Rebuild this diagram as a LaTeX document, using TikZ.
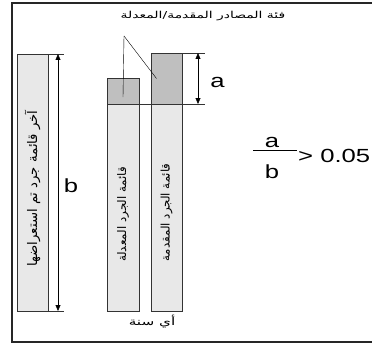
\documentclass[tikz,border=0pt]{standalone}
\usepackage{fontspec}
\setmainfont{Liberation Sans}[FakeStretch=1.35]
\newfontfamily\arabicfont[Script=Arabic, FakeStretch=1.45]{DejaVu Sans}
\newfontfamily\arabicside[Script=Arabic]{DejaVu Sans}
\TeXXeTstate=1
\usetikzlibrary{arrows.meta}

\begin{document}
\begin{tikzpicture}[x=1pt, y=-1pt,
  bar/.style={draw=black!80, fill=#1, inner sep=0pt, outer sep=0pt},
  lightbar/.style={bar=gray!18},
  darkbar/.style={bar=gray!50},
  dim/.style={{Triangle[length=6pt,width=5pt]}-{Triangle[length=6pt,width=5pt]}, black},
  tick/.style={draw=black!80},
  arab/.style={font=\arabicfont\fontsize{#1}{13}\selectfont, inner sep=0pt},
  sidetext/.style={font=\arabicside\fontsize{#1}{14}\selectfont, inner sep=0pt, rotate=90},
  big/.style={font=\fontsize{19}{22}\selectfont, inner sep=0pt}
]
\useasboundingbox (0,0) rectangle (372,345);

% frame
\draw[line width=1.5pt, black!85] (372,3) -- (12,3) -- (12,342) -- (372,342);

% inventory bars
\node[lightbar, minimum width=31, minimum height=257] (last) at (32.5,182.5) {};
\node[lightbar, minimum width=32, minimum height=207] (rev) at (123,207.5) {};
\node[darkbar, minimum width=32, minimum height=26, anchor=south] (revtop) at (rev.north) {};
\node[lightbar, minimum width=31, minimum height=207] (sub) at (166.5,207.5) {};
\node[darkbar, minimum width=31, minimum height=51, anchor=south] (subtop) at (sub.north) {};

\node[sidetext=13.2] (lasttxt) at ([yshift=-6]last.center) {\beginR آخر قائمة جرد تم استعراضها\endR};
\node[sidetext=11.8] (revtxt) at ([yshift=-7]rev.center) {\beginR قائمة الجرد المعدلة\endR};
\node[sidetext=11.8] (subtxt) at ([yshift=-5]sub.center) {\beginR قائمة الجرد المقدمة\endR};

% dimension b
\draw[tick] (last.north east) -- ++(16,0);
\draw[tick] (last.south east) -- ++(16,0);
\draw[dim] ([xshift=10]last.north east) -- ([xshift=10]last.south east);
\node[big, anchor=base] (blabel) at (71,192) {b};

% dimension a
\draw[tick] (subtop.north east) -- ++(23,0);
\draw[tick] (revtop.south east) -- (sub.north west);
\draw[tick] (subtop.south east) -- ++(23,0);
\draw[dim] ([xshift=16]subtop.north east) -- ([xshift=16]subtop.south east);
\node[big, anchor=base] (alabel) at (217.5,87) {a};

% source category label
\node[arab=9.6] (category) at (203,16) {\beginR فئة المصادر المقدمة/المعدلة\endR};
\coordinate (split) at (124,36);
\draw (split) -- ([yshift=-6]revtop.center);
\draw (split) -- ([xshift=-10]subtop.center);

\node[arab=10.5] (year) at (152,322) {\beginR أي سنة\endR};

% ratio
\node[big, anchor=base] (num) at (272,147) {a};
\node[big, anchor=base] (den) at (272,178) {b};
\draw (253,150) -- (297,150);
\node[big, anchor=base west] (limit) at (298,162) {> 0.05};

\end{tikzpicture}
\end{document}
